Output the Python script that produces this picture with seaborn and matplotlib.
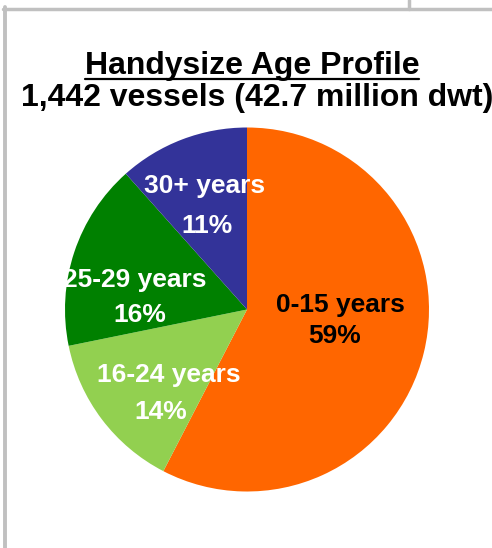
# Handysize age profile pie chart

import matplotlib.pyplot as plt
import seaborn as sns
from matplotlib.lines import Line2D

# data
categories = ['0-15 years', '16-24 years', '25-29 years', '30+ years']
shares = [57.6, 14.2, 16.6, 11.6]          # slice sizes as drawn
pct_labels = ['59%', '14%', '16%', '11%']  # percentages as printed
colors = ['#FF6600', '#92D050', '#008000', '#333399']
text_colors = ['black', 'white', 'white', 'white']

title = 'Handysize Age Profile'
subtitle = '1,442 vessels (42.7 million dwt)'

# label anchors (data units, pie radius = 1): name line, pct line baselines
label_pos = [((0.516, -0.012), (0.481, -0.184)),
             ((-0.429, -0.397), (-0.473, -0.602)),
             ((-0.615, 0.125), (-0.588, -0.067)),
             ((-0.231, 0.640), (-0.220, 0.419))]

sns.set_theme(style='white')
plt.rcParams['font.family'] = ['Liberation Sans', 'DejaVu Sans']

W, H = 492, 548
fig = plt.figure(figsize=(W / 100, H / 100), dpi=100)

cx, cy, r = 247, 309.5, 182
ax = fig.add_axes([(cx - r) / W, (H - cy - r) / H, 2 * r / W, 2 * r / H])
ax.pie(shares, colors=sns.color_palette(colors), startangle=90,
       counterclock=False, radius=1,
       wedgeprops={'linewidth': 0})
ax.set_xlim(-1, 1)
ax.set_ylim(-1, 1)
ax.set_aspect('equal')
ax.axis('off')

for (name_xy, pct_xy), name, pct, tc in zip(label_pos, categories,
                                            pct_labels, text_colors):
    ax.text(*name_xy, name, ha='center', va='baseline', fontsize=19,
            fontweight='bold', color=tc)
    ax.text(*pct_xy, pct, ha='center', va='baseline', fontsize=19,
            fontweight='bold', color=tc)

# titles
t1 = fig.text(252 / W, (H - 74.3) / H, title, ha='center', va='baseline',
              fontsize=23, fontweight='bold', color='black')
fig.text(257 / W, (H - 106) / H, subtitle, ha='center', va='baseline',
         fontsize=23, fontweight='bold', color='black')

# underline for the title
fig.canvas.draw()
bb = t1.get_window_extent()
uy = (H - 79) / H
fig.add_artist(Line2D([bb.x0 / W, bb.x1 / W], [uy, uy], color='black',
                      linewidth=1.6, transform=fig.transFigure))

# grey cell frame
grey = '#C0C0C0'
fig.add_artist(Line2D([3 / W, 1], [(H - 8.5) / H] * 2, color=grey,
                      linewidth=2.5, transform=fig.transFigure))
fig.add_artist(Line2D([5 / W] * 2, [(H - 7) / H, 0], color=grey,
                      linewidth=2.8, transform=fig.transFigure))
fig.add_artist(Line2D([409 / W] * 2, [1, (H - 8.5) / H], color=grey,
                      linewidth=2.5, transform=fig.transFigure))

fig.savefig('out.png', dpi=100)
